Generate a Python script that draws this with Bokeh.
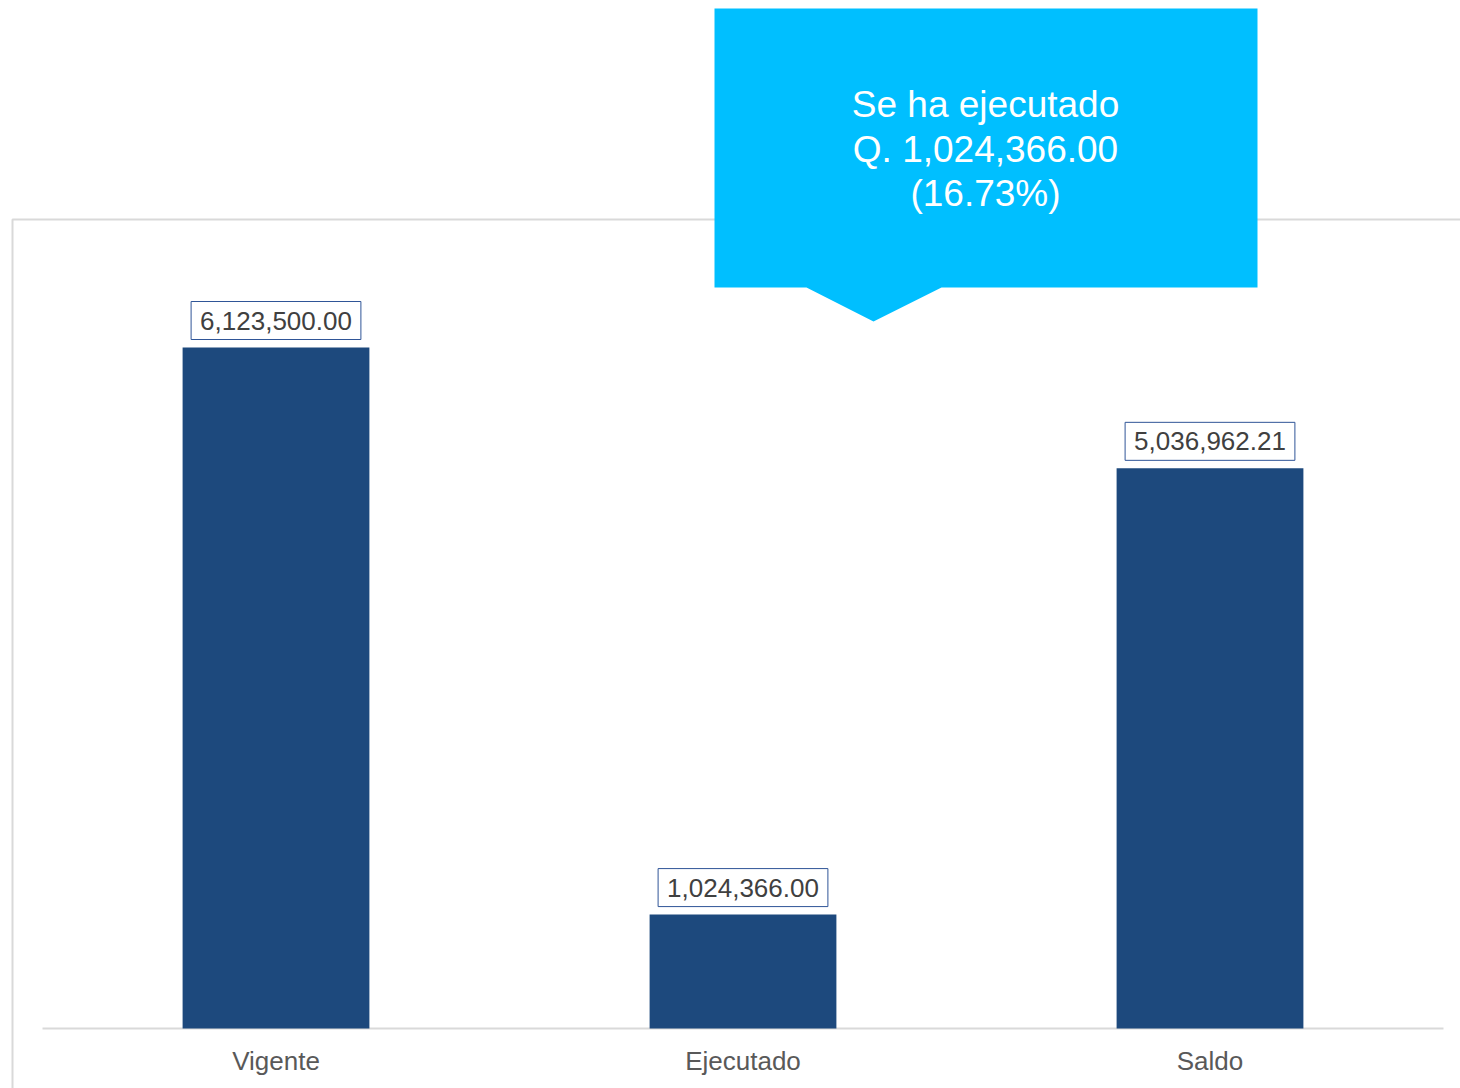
from bokeh.plotting import figure
from bokeh.models import Range1d, ColumnDataSource
from bokeh.core.properties import value
from bokeh.embed import file_html
from bokeh.resources import INLINE

# ---- data ----
categories = ["Vigente", "Ejecutado", "Saldo"]
amounts = [6123500.00, 1024366.00, 5036962.21]
amount_labels = ["6,123,500.00", "1,024,366.00", "5,036,962.21"]
callout_lines = ["Se ha ejecutado", "Q. 1,024,366.00", "(16.73%)"]

# ---- layout constants (page pixels) ----
W, H = 1460, 1088
BASE_Y = 1028              # baseline page y
AX_L, SLOT = 42, 467       # first slot left edge, slot width (page px)
K = 8992.0                 # value per pixel

def vx(px):  # page x -> data x
    return (px - AX_L) / SLOT

def vy(py):  # page y -> data y
    return (BASE_Y - py) * K

p = figure(width=W, height=H, output_backend="svg", toolbar_location=None,
           x_range=Range1d(vx(0), vx(W)), y_range=Range1d(vy(H), vy(0)),
           x_axis_type=None, y_axis_type=None, min_border=0,
           background_fill_color="white", border_fill_color="white")
p.outline_line_color = None
p.xgrid.visible = False
p.ygrid.visible = False

FONT = value("Liberation Sans")

# chart border (top and left)
p.line(x=[vx(12), vx(12), vx(1465)], y=[vy(1095), vy(219), vy(219)],
       line_color="#D9D9D9", line_width=2)

# baseline
p.line(x=[0, len(categories)], y=[0, 0], line_color="#D9D9D9", line_width=2)

xs = [i + 0.5 for i in range(len(categories))]
src = ColumnDataSource(dict(x=xs, top=amounts, lab=amount_labels, cat=categories))

p.vbar(x="x", top="top", bottom=0, width=0.4, source=src,
       fill_color="#1D497D", line_color=None)

# value labels with boxes
p.text(x="x", y="top", text="lab", source=src, text_align="center",
       text_baseline="bottom", y_offset=-8, text_font=FONT,
       text_font_size="26px", text_color="#404040",
       background_fill_color="white", border_line_color="#2F5597",
       border_line_width=1, padding=dict(x=9, y=10))

# category labels
p.text(x="x", y=vy(1060), text="cat", source=src,
       text_align="center", text_baseline="middle", text_font=FONT,
       text_font_size="26px", text_color="#595959")

# callout
cx = [vx(714), vx(1257), vx(1257), vx(941), vx(873), vx(806), vx(714)]
cy = [vy(8), vy(8), vy(287), vy(287), vy(321), vy(287), vy(287)]
p.patch(x=cx, y=cy, fill_color="#00BFFF", line_color=None)

line_y = [vy(104), vy(148.5), vy(193)]
p.text(x=[vx(985)] * 3, y=line_y, text=callout_lines,
       text_align="center", text_baseline="middle", text_font=FONT,
       text_font_size="37px", text_color="white")

open("out.html", "w").write(file_html(p, INLINE))
